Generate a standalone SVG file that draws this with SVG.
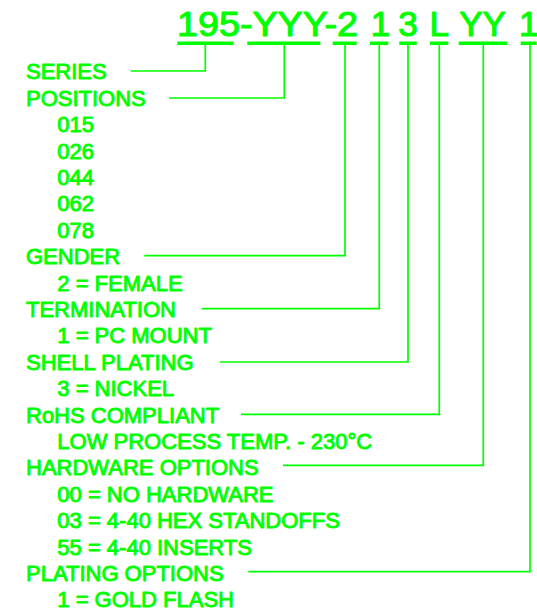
<svg xmlns="http://www.w3.org/2000/svg" width="537" height="613" viewBox="0 0 537 613">
<style>
text{font-family:"Liberation Sans",Arial,sans-serif;fill:#00ff00;stroke:#00ff00;stroke-width:0.9;stroke-linejoin:round}
.t{font-size:35px;stroke-width:1.1}
.l{font-size:22px}
.u{stroke:#00ff00;stroke-width:3.5;fill:none}
.c{stroke:#00ff00;stroke-width:1.7;fill:none}
</style>
<rect width="537" height="613" fill="#ffffff"/>
<g id="title">
<text class="t" x="177" y="36" textLength="181" lengthAdjust="spacingAndGlyphs">195-YYY-2</text>
<text class="t" x="380.5" y="36" text-anchor="middle">1</text>
<text class="t" x="408" y="36" text-anchor="middle">3</text>
<text class="t" x="439.3" y="36" text-anchor="middle">L</text>
<text class="t" x="482.5" y="36" text-anchor="middle">YY</text>
<text class="t" x="528.8" y="36" text-anchor="middle">1</text>
</g>
<g id="underlines">
<path class="u" d="M177.3 43.3H233.7M247.3 43.3H320.3M332.7 43.3H356.7M370 43.3H388.3M399.3 43.3H416.7M430 43.3H448.3M458.7 43.3H507.3M520.7 43.3H536.7"/>
</g>
<g id="connectors">
<path class="c" d="M130.7 71H205.3V43"/>
<path class="c" d="M169 98H284.3V43"/>
<path class="c" d="M144.3 255.7H345V43"/>
<path class="c" d="M201.7 308.7H379.3V43"/>
<path class="c" d="M220 362H408V43"/>
<path class="c" d="M241 414.3H439.3V43"/>
<path class="c" d="M283 465.3H483.3V43"/>
<path class="c" d="M248.3 571.7H530V43"/>
</g>
<g id="series"><text class="l" x="26" y="79.3">SERIES</text></g>
<g id="positions">
<text class="l" x="26" y="105.7">POSITIONS</text>
<text class="l" x="57.3" y="132.1">015</text>
<text class="l" x="57.3" y="158.5">026</text>
<text class="l" x="57.3" y="184.9">044</text>
<text class="l" x="57.3" y="211.3">062</text>
<text class="l" x="57.3" y="237.7">078</text>
</g>
<g id="gender">
<text class="l" x="26" y="264.1">GENDER</text>
<text class="l" x="57.3" y="290.5">2 = FEMALE</text>
</g>
<g id="termination">
<text class="l" x="26" y="316.9">TERMINATION</text>
<text class="l" x="57.3" y="343.3">1 = PC MOUNT</text>
</g>
<g id="shell-plating">
<text class="l" x="26" y="369.7">SHELL PLATING</text>
<text class="l" x="57.3" y="396.1">3 = NICKEL</text>
</g>
<g id="rohs">
<text class="l" x="26" y="422.5">RoHS COMPLIANT</text>
<text class="l" x="57.3" y="448.9">LOW PROCESS TEMP. - 230°C</text>
</g>
<g id="hardware">
<text class="l" x="26" y="475.3">HARDWARE OPTIONS</text>
<text class="l" x="57.3" y="501.7">00 = NO HARDWARE</text>
<text class="l" x="57.3" y="528.1">03 = 4-40 HEX STANDOFFS</text>
<text class="l" x="57.3" y="554.5">55 = 4-40 INSERTS</text>
</g>
<g id="plating-options">
<text class="l" x="26" y="580.9">PLATING OPTIONS</text>
<text class="l" x="57.3" y="607.3">1 = GOLD FLASH</text>
</g>
</svg>
